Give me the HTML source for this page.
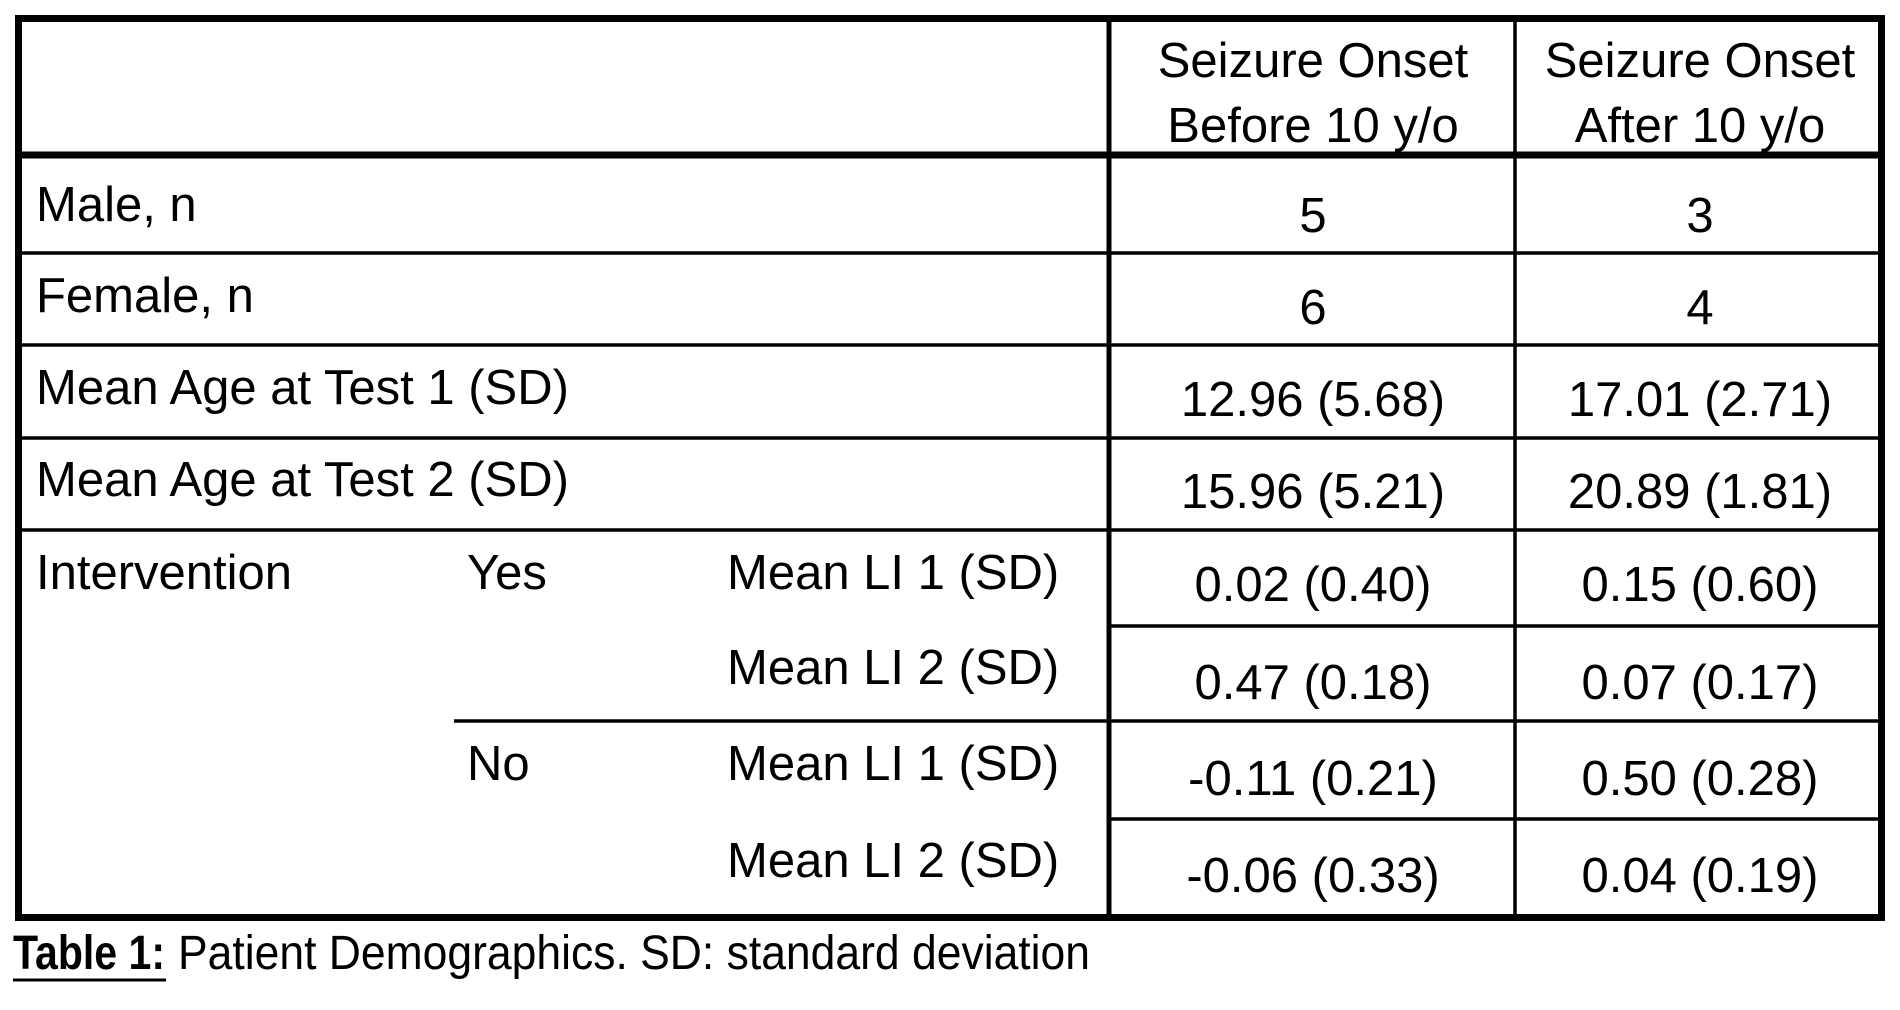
<!DOCTYPE html>
<html><head><meta charset="utf-8"><style>
html,body{margin:0;padding:0;background:#fff;}
svg{display:block;}
text{font-family:"Liberation Sans",Arial,sans-serif;fill:#000;}
</style></head><body>
<svg width="1900" height="1010" viewBox="0 0 1900 1010" xmlns="http://www.w3.org/2000/svg">
<rect x="0" y="0" width="1900" height="1010" fill="#fff"/>
<g stroke="#000" fill="none">
<rect x="18.5" y="18.5" width="1863" height="899" stroke-width="7"/>
<line x1="18" y1="155" x2="1882" y2="155" stroke-width="7"/>
<line x1="1109" y1="18" x2="1109" y2="918" stroke-width="5"/>
<line x1="1515" y1="18" x2="1515" y2="918" stroke-width="3.5"/>
<line x1="18" y1="253" x2="1882" y2="253" stroke-width="3.5"/>
<line x1="18" y1="345" x2="1882" y2="345" stroke-width="3.5"/>
<line x1="18" y1="438" x2="1882" y2="438" stroke-width="3.5"/>
<line x1="18" y1="530" x2="1882" y2="530" stroke-width="3.5"/>
<line x1="1109" y1="626" x2="1882" y2="626" stroke-width="3.5"/>
<line x1="454" y1="721" x2="1882" y2="721" stroke-width="3.5"/>
<line x1="1109" y1="819" x2="1882" y2="819" stroke-width="3.5"/>
</g>
<g font-size="49">
<text x="1313" y="77" text-anchor="middle">Seizure Onset</text>
<text x="1313" y="142" text-anchor="middle">Before 10 y/o</text>
<text x="1700" y="77" text-anchor="middle">Seizure Onset</text>
<text x="1700" y="142" text-anchor="middle">After 10 y/o</text>

<text x="36" y="221">Male, n</text>
<text x="36" y="312">Female, n</text>
<text x="36" y="404">Mean Age at Test 1 (SD)</text>
<text x="36" y="496">Mean Age at Test 2 (SD)</text>
<text x="36" y="589">Intervention</text>
<text x="467" y="589">Yes</text>
<text x="727" y="589">Mean LI 1 (SD)</text>
<text x="727" y="684">Mean LI 2 (SD)</text>
<text x="467" y="780">No</text>
<text x="727" y="780">Mean LI 1 (SD)</text>
<text x="727" y="877">Mean LI 2 (SD)</text>

<g text-anchor="middle">
<text x="1313" y="232">5</text><text x="1700" y="232">3</text>
<text x="1313" y="324">6</text><text x="1700" y="324">4</text>
<text x="1313" y="416">12.96 (5.68)</text><text x="1700" y="416">17.01 (2.71)</text>
<text x="1313" y="508">15.96 (5.21)</text><text x="1700" y="508">20.89 (1.81)</text>
<text x="1313" y="601">0.02 (0.40)</text><text x="1700" y="601">0.15 (0.60)</text>
<text x="1313" y="699">0.47 (0.18)</text><text x="1700" y="699">0.07 (0.17)</text>
<text x="1313" y="795">-0.11 (0.21)</text><text x="1700" y="795">0.50 (0.28)</text>
<text x="1313" y="892">-0.06 (0.33)</text><text x="1700" y="892">0.04 (0.19)</text>
</g>
</g>
<text x="13" y="969" font-size="48" font-weight="bold" textLength="152" lengthAdjust="spacingAndGlyphs">Table 1:</text>
<line x1="13" y1="980" x2="166" y2="980" stroke="#000" stroke-width="3"/>
<text x="178" y="969" font-size="48" textLength="912" lengthAdjust="spacingAndGlyphs">Patient Demographics. SD: standard deviation</text>
</svg>
</body></html>
